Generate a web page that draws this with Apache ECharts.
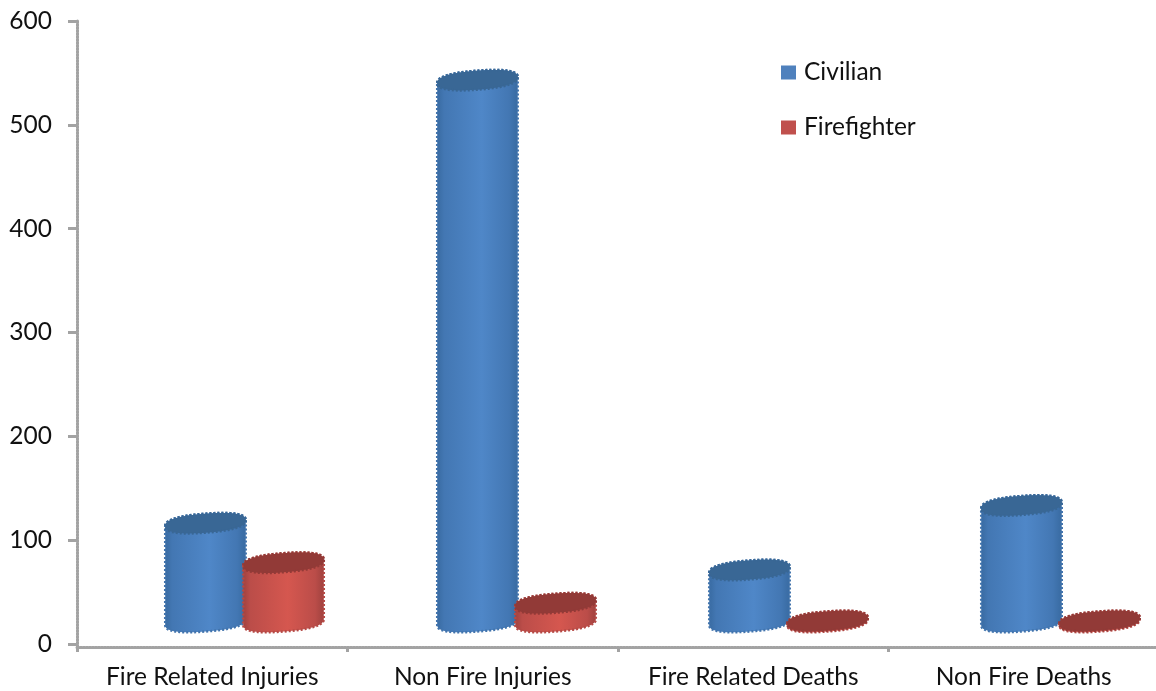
<!DOCTYPE html>
<html>
<head>
<meta charset="utf-8">
<style>html,body{margin:0;padding:0;background:#fff}#c{width:1156px;height:691px}</style>
<script src="https://cdn.jsdelivr.net/npm/echarts@6/dist/echarts.min.js"></script>
</head>
<body>
<div id="c"></div>
<script>
const categories = ['Fire Related Injuries', 'Non Fire Injuries', 'Fire Related Deaths', 'Non Fire Deaths'];
const civilian = [95, 521, 50, 112];
const firefighter = [57, 18, 1, 1];
const yTicks = [0, 100, 200, 300, 400, 500, 600];

const FONT = 'Lato';
const TEXT = '#111111';
const AXIS = '#a3a3a3';

function pow(v, p) { return Math.sign(v) * Math.pow(Math.abs(v), p); }

function outline(cx, cy, a, b, s, from, to) {
  const pts = [];
  const n = 60;
  for (let i = 0; i <= n; i++) {
    const t = from + (to - from) * i / n;
    const c = pow(Math.cos(t), 0.82), d = pow(Math.sin(t), 0.82);
    pts.push([cx + a * c, cy + b * d - s * c]);
  }
  return pts;
}

function cylinder(side, pal) {
  return function (params, api) {
    const idx = api.value(0);
    const band = api.size([1, 0])[0];
    const base = api.coord([idx, 0]);
    const top = api.coord([idx, api.value(1)]);
    const cx = base[0] + side * band * 0.1435;
    const a = band * 0.148, b = 9.5, s = 3;
    const body = outline(cx, top[1], a, b, s, Math.PI, 2 * Math.PI)
      .concat(outline(cx, base[1], a, b, s, 0, Math.PI));
    const grad = new echarts.graphic.LinearGradient(0, 0, 1, 0, [
      { offset: 0, color: pal[0] },
      { offset: 0.1, color: pal[1] },
      { offset: 0.55, color: pal[2] },
      { offset: 0.88, color: pal[1] },
      { offset: 1, color: pal[0] }
    ]);
    const cap = outline(cx, top[1], a, b, s, 0, 2 * Math.PI);
    return {
      type: 'group',
      children: [
        { type: 'polygon', shape: { points: body },
          style: { fill: grad, stroke: pal[4], lineWidth: 2.5, lineDash: [2, 2] } },
        { type: 'polygon', shape: { points: cap },
          style: { fill: pal[3], stroke: pal[3], lineWidth: 2.5, lineDash: [2, 2] } }
      ]
    };
  };
}

const blue = ['#37699f', '#4377b3', '#4f87c8', '#396795', '#4274ad'];
const red = ['#9c403d', '#bb4d49', '#d5574f', '#923a37', '#b54a46'];

const chart = echarts.init(document.getElementById('c'), null, { renderer: 'canvas' });
chart.setOption({
  animation: false,
  backgroundColor: '#ffffff',
  textStyle: { fontFamily: FONT },
  legend: {
    orient: 'vertical', left: 776, top: 55, itemWidth: 15, itemHeight: 14, itemGap: 30,
    icon: 'rect',
    textStyle: { fontFamily: FONT, fontSize: 24.5, color: TEXT, padding: [0, 0, 0, 3] },
    data: ['Civilian', 'Firefighter']
  },
  grid: [
    { left: 77, top: 21, width: 1082, height: 623, outerBoundsMode: 'none' },
    { left: 77, top: 21, width: 1082, height: 626, outerBoundsMode: 'none' },
    { left: 108.5, top: -2, width: 1088, height: 624, outerBoundsMode: 'none' }
  ],
  xAxis: [
    { gridIndex: 0, type: 'category', data: categories, show: false },
    { gridIndex: 1, type: 'category', data: categories,
      axisLine: { show: true, lineStyle: { color: AXIS, width: 3, type: [2, 1] } },
      axisTick: { show: true, alignWithLabel: false, length: 5, lineStyle: { color: AXIS, width: 3 } },
      axisLabel: { show: true, interval: 0, fontFamily: FONT, fontSize: 24.5, color: TEXT, margin: 18 } },
    { gridIndex: 2, type: 'category', data: categories, show: false }
  ],
  yAxis: [
    { gridIndex: 0, type: 'value', min: 0, max: 600, interval: 100,
      splitLine: { show: false },
      axisLine: { show: false },
      axisTick: { show: true, length: 9, lineStyle: { color: AXIS, width: 3 } },
      axisLabel: { fontFamily: FONT, fontSize: 24.5, color: TEXT, margin: 25,
        formatter: v => yTicks.includes(v) ? String(v) : '' } },
    { gridIndex: 1, type: 'value', min: 0, max: 600, interval: 100,
      splitLine: { show: false },
      axisLine: { show: true, lineStyle: { color: AXIS, width: 3, type: [2, 1] } },
      axisTick: { show: false }, axisLabel: { show: false } },
    { gridIndex: 2, type: 'value', min: 0, max: 600, show: false, splitLine: { show: false } }
  ],
  series: [
    { name: 'Civilian', type: 'custom', xAxisIndex: 2, yAxisIndex: 2, clip: false,
      itemStyle: { color: '#4f81bd' },
      encode: { x: 0, y: 1 },
      data: civilian.map((v, i) => [i, v]),
      renderItem: cylinder(-1, blue) },
    { name: 'Firefighter', type: 'custom', xAxisIndex: 2, yAxisIndex: 2, clip: false,
      itemStyle: { color: '#c0504d' },
      encode: { x: 0, y: 1 },
      data: firefighter.map((v, i) => [i, v]),
      renderItem: cylinder(1, red) }
  ]
});
</script>
</body>
</html>
